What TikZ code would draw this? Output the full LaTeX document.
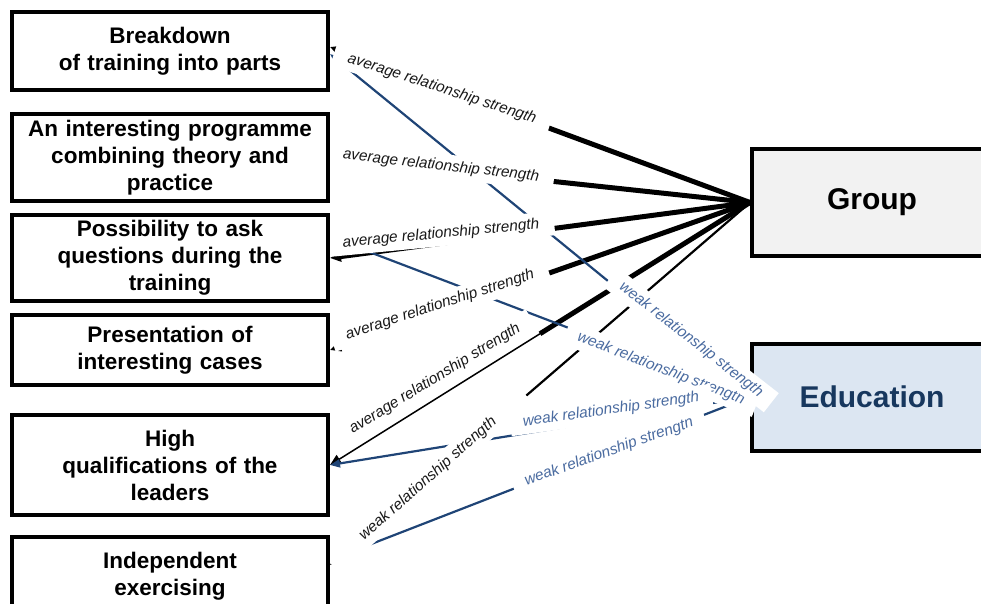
\documentclass[tikz,border=0pt]{standalone}
\usepackage{fontspec}
\setmainfont{Liberation Sans}
\usetikzlibrary{arrows.meta,calc}
\definecolor{navy}{RGB}{31,68,118}
\definecolor{lblblue}{RGB}{74,107,160}
\definecolor{edufill}{RGB}{220,230,242}
\definecolor{edutext}{RGB}{23,55,94}
\definecolor{grpfill}{RGB}{242,242,242}
\definecolor{lbltext}{RGB}{25,25,25}
\begin{document}
\begin{tikzpicture}[x=1pt,y=-1pt,
  leftbox/.style={draw=black,line width=4pt,fill=white,minimum width=316pt,text width=300pt,align=center,inner sep=0pt,font=\fontsize{22.5}{27}\selectfont\bfseries},
  bigbox/.style={draw=black,line width=4pt,minimum width=240pt,minimum height=107pt,inner sep=0pt,font=\fontsize{30}{36}\selectfont\bfseries},
  avglbl/.style={fill=white,inner xsep=15pt,inner ysep=5pt,font=\fontsize{15.3}{18}\selectfont\itshape,text=lbltext},
  weaklbl/.style={avglbl,inner xsep=13pt,text=lblblue},
  tipk/.style={-{Triangle[length=11pt,width=10pt]}},
  strongline/.style={line width=5pt,black},
  midline/.style={line width=2.2pt,black},
  thinline/.style={line width=1.5pt,black},
  blueline/.style={line width=2.2pt,navy,-{Triangle[length=10pt,width=8pt]}}
]
\useasboundingbox (0,0) rectangle (981,604);
\clip (0,0) rectangle (981,604);

\path (170,51) coordinate (p1) (170,157.5) coordinate (p2) (170,258) coordinate (p3)
      (170,350) coordinate (p4) (170,465) coordinate (p5) (170,576) coordinate (p6);

\node[bigbox,fill=grpfill] (grp) at (872,202.5) {Group};
\node[bigbox,fill=edufill,text=edutext] (edu) at (872,397) {Education};

\node[leftbox,minimum height=78pt] (b1) at (p1) {Breakdown\\of training into parts};
\node[leftbox,minimum height=87pt] (b2) at (p2) {An interesting programme\\combining theory and\\practice};
\node[leftbox,minimum height=86pt] (b3) at (p3) {Possibility to ask\\questions during the\\training};
\node[leftbox,minimum height=70pt] (b4) at (p4) {Presentation of\\interesting cases};
\node[leftbox,minimum height=100pt] (b5) at (p5) {High\\qualifications of the\\leaders};
\node[leftbox,minimum height=78pt] (b6) at (p6) {Independent\\exercising};

\coordinate (m5) at ($(grp.west)!0.5!(b5.east)$);

% black connectors (Group)
\draw[strongline,tipk] (grp.west) -- ([yshift=4pt]b1.east);
\draw[strongline,tipk] (grp.west) -- (b2.east);
\draw[strongline,tipk] (grp.west) -- (b3.east);
\draw[strongline,tipk] (grp.west) -- (b4.east);
\draw[strongline] (grp.west) -- (m5);
\draw[thinline,tipk] (m5) -- (b5.east);
\draw[midline,tipk] (grp.west) -- ([yshift=11pt]b6.east);

% blue connectors (Education)
\draw[blueline] (edu.west) -- ([yshift=-3pt]b1.east);
\draw[blueline] (edu.west) -- ([yshift=21pt]b3.east);
\draw[blueline] (edu.west) -- (b5.east);
\draw[blueline] (edu.west) -- ([yshift=16pt]b6.east);

% labels
\node[avglbl,rotate=-18] (l1) at (442,89) {average relationship strength};
\node[avglbl,rotate=-6.5] (l2) at (441,166) {average relationship strength};
\node[avglbl,rotate=5.5] (l3) at (441,234) {average relationship strength};
\node[avglbl,rotate=18] (l4) at (440,305) {average relationship strength};
\node[avglbl,rotate=31.5] (l5) at (435,379) {average relationship strength};
\node[avglbl,inner xsep=40pt,rotate=41.5] (l6) at (428,479) {weak relationship strength};
\node[weaklbl,rotate=-21] (lb) at (661,369) {weak relationship strength};
\node[weaklbl,rotate=-38] (la) at (691,340) {weak relationship strength};
\node[weaklbl,rotate=19.5] (ld) at (609,452) {weak relationship strengtn};
\node[weaklbl,rotate=8] (lc) at (611,410) {weak relationship strength};

% left box borders on top of label backgrounds
\foreach \b in {b1,b2,b3,b4,b5,b6}{
  \draw[line width=4pt] (\b.south west) ++(2pt,2pt) rectangle ($(\b.north east)+(-2pt,-2pt)$);
}
\end{tikzpicture}
\end{document}
